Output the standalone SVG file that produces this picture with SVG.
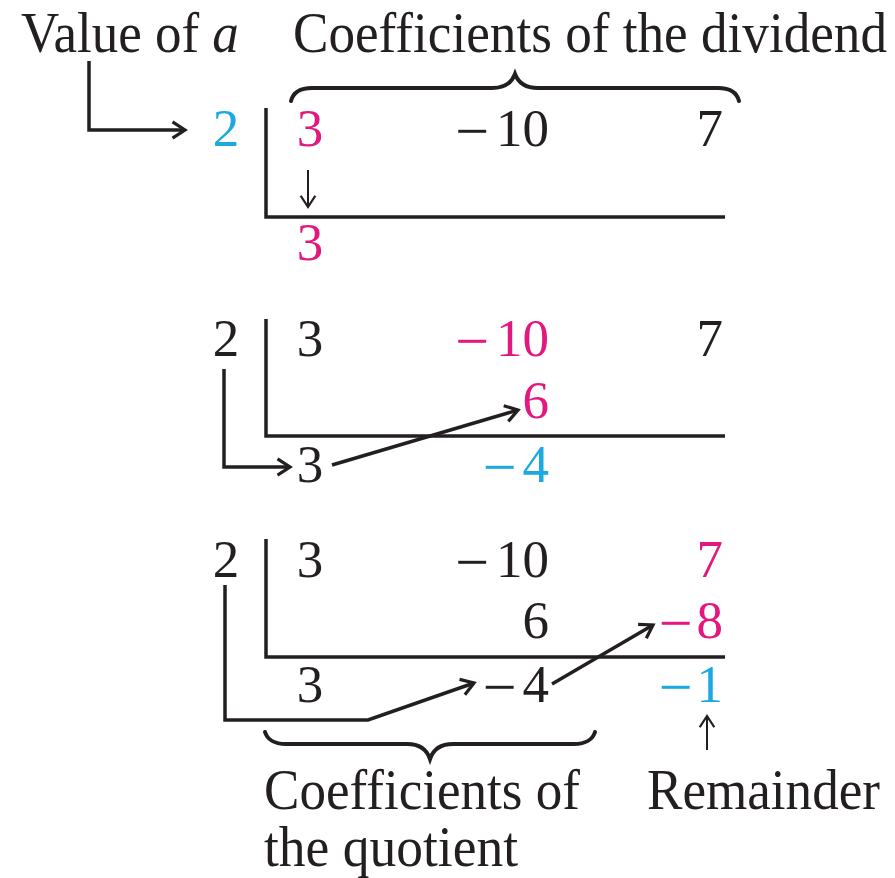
<svg xmlns="http://www.w3.org/2000/svg" width="895" height="878" viewBox="0 0 895 878">
<style>
text{font-family:"Liberation Serif","Times New Roman",serif;fill:#231f20}
.lbl{font-size:53px}
.num{font-size:53px}
.mn{font-size:60px}
.mag{fill:#e2187e}
.cy{fill:#1ba9e1}
.ln{fill:none;stroke:#231f20;stroke-width:3.5;stroke-linejoin:miter}
.th{fill:none;stroke:#231f20;stroke-width:2}
.br{fill:none;stroke:#231f20;stroke-width:4;stroke-linecap:round}
</style>
<defs>
<marker id="ah" markerUnits="userSpaceOnUse" markerWidth="20" markerHeight="20" refX="13" refY="8" orient="auto" viewBox="0 0 16 16">
<path d="M3,1.5 L13,8 L3,14.5" fill="none" stroke="#231f20" stroke-width="2.6"/>
</marker>
<marker id="ahs" markerUnits="userSpaceOnUse" markerWidth="18" markerHeight="18" refX="13" refY="8" orient="auto" viewBox="0 0 16 16">
<path d="M3,1.5 L13,8 L3,14.5" fill="none" stroke="#231f20" stroke-width="2"/>
</marker>
</defs>
<rect width="895" height="878" fill="#ffffff"/>

<g id="labels">
<g transform="translate(0,52) scale(1,1.06) translate(0,-52)">
<text class="lbl" x="21" y="52">Value of <tspan font-style="italic">a</tspan></text>
<text class="lbl" x="293" y="52" textLength="594" lengthAdjust="spacingAndGlyphs">Coefficients of the dividend</text>
</g>
<g transform="translate(0,809) scale(1,1.06) translate(0,-809)">
<text class="lbl" x="264" y="809" textLength="316" lengthAdjust="spacingAndGlyphs">Coefficients of</text>
<text class="lbl" x="647" y="809" textLength="233" lengthAdjust="spacingAndGlyphs">Remainder</text>
</g>
<g transform="translate(0,866) scale(1,1.06) translate(0,-866)">
<text class="lbl" x="264" y="866" textLength="254" lengthAdjust="spacingAndGlyphs">the quotient</text>
</g>
</g>

<g id="braces">
<path class="br" d="M291,101 C293,93 300,88 312,88 L492,88 C506,88 512,82 515,74 C518,82 524,88 538,88 L718,88 C730,88 737,93 739,101"/>
<path class="br" d="M265,732 C267,739 274,744 286,744 L407,744 C420,744 427,750 430,759 C433,750 440,744 453,744 L574,744 C586,744 593,739 595,732"/>
</g>

<g id="step1">
<text class="num cy" x="226" y="146" text-anchor="middle">2</text>
<text class="num mag" x="310" y="146" text-anchor="middle">3</text>
<text class="num" x="549" y="146" text-anchor="end"><tspan class="mn" dy="5">−</tspan><tspan dx="7" dy="-5">10</tspan></text>
<text class="num" x="723" y="146" text-anchor="end">7</text>
<text class="num mag" x="310" y="260" text-anchor="middle">3</text>
<path class="ln" d="M266,108 V217 H725"/>
</g>

<g id="step2">
<text class="num" x="226" y="356" text-anchor="middle">2</text>
<text class="num" x="310" y="356" text-anchor="middle">3</text>
<text class="num mag" x="549" y="356" text-anchor="end"><tspan class="mn" dy="5">−</tspan><tspan dx="7" dy="-5">10</tspan></text>
<text class="num" x="723" y="356" text-anchor="end">7</text>
<text class="num mag" x="549" y="418" text-anchor="end">6</text>
<text class="num" x="310" y="482" text-anchor="middle">3</text>
<text class="num cy" x="549" y="482" text-anchor="end"><tspan class="mn" dy="5">−</tspan><tspan dx="6" dy="-5">4</tspan></text>
<path class="ln" d="M266,319 V436 H725"/>
</g>

<g id="step3">
<text class="num" x="226" y="577" text-anchor="middle">2</text>
<text class="num" x="310" y="577" text-anchor="middle">3</text>
<text class="num" x="549" y="577" text-anchor="end"><tspan class="mn" dy="5">−</tspan><tspan dx="7" dy="-5">10</tspan></text>
<text class="num mag" x="723" y="577" text-anchor="end">7</text>
<text class="num" x="549" y="638" text-anchor="end">6</text>
<text class="num mag" x="723" y="638" text-anchor="end"><tspan class="mn" dy="5">−</tspan><tspan dx="4" dy="-5">8</tspan></text>
<text class="num" x="310" y="702" text-anchor="middle">3</text>
<text class="num" x="549" y="702" text-anchor="end"><tspan class="mn" dy="5">−</tspan><tspan dx="6" dy="-5">4</tspan></text>
<text class="num cy" x="723" y="702" text-anchor="end"><tspan class="mn" dy="5">−</tspan><tspan dx="4" dy="-5">1</tspan></text>
<path class="ln" d="M266,539 V657 H725"/>
</g>

<g id="connectors">
<path class="ln" d="M89,61 V130 H185" marker-end="url(#ah)"/>
<path class="th" d="M308,170 V207" marker-end="url(#ahs)"/>
<path class="ln" d="M224,369 V467 H290" marker-end="url(#ah)"/>
<path class="ln" d="M332,465 L518,410" marker-end="url(#ah)"/>
<path class="ln" d="M225,585 V720 H368 L474,683" marker-end="url(#ah)"/>
<path class="ln" d="M552,684 L653,625" marker-end="url(#ah)"/>
<path class="th" d="M707,750 V716" marker-end="url(#ahs)"/>
</g>
</svg>
